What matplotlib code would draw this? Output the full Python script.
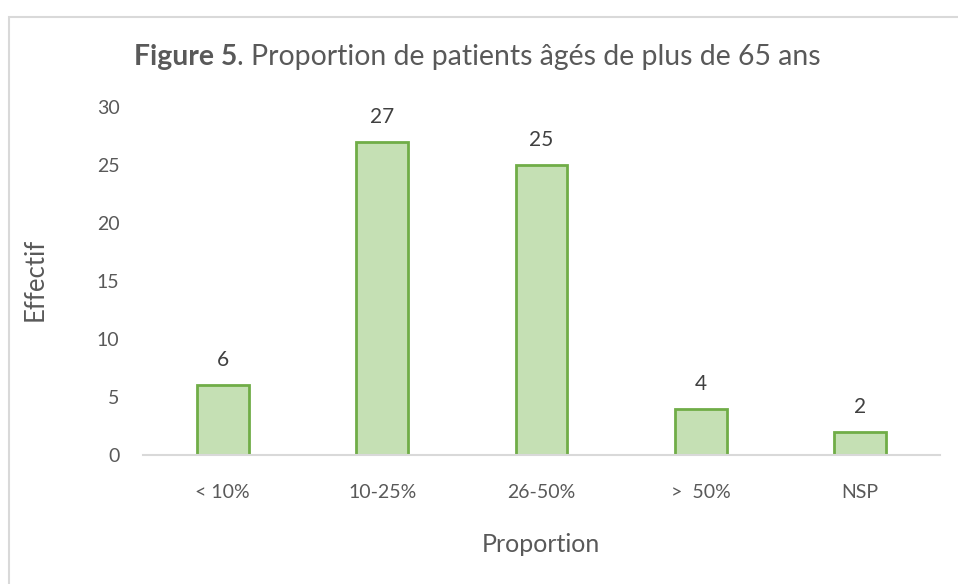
import matplotlib
matplotlib.use("Agg")
import matplotlib.pyplot as plt
from matplotlib.patches import Rectangle

# donnees
categories = ["< 10%", "10-25%", "26-50%", ">  50%", "NSP"]
effectifs = [6, 27, 25, 4, 2]
y_ticks = [0, 5, 10, 15, 20, 25, 30]

plt.rcParams['font.family'] = ['Lato', 'DejaVu Sans']
txt_color = '#595959'

fig = plt.figure(figsize=(9.58, 5.84), dpi=100)
ax = fig.add_axes([143 / 958, 129 / 584, 797 / 958, 348 / 584])

# cadre gris autour du graphique
fig.patches.append(Rectangle((9 / 958, -0.01), 1.0, 1.01 - 17 / 584,
                             transform=fig.transFigure, fill=False,
                             edgecolor='#D9D9D9', linewidth=1.5))

x = range(len(categories))
bars = ax.bar(x, effectifs, width=0.325, color='#C5E0B4',
              edgecolor='#70AD47', linewidth=2)

for b, v in zip(bars, effectifs):
    ax.annotate(str(v), (b.get_x() + b.get_width() / 2, v),
                xytext=(0, 25), textcoords='offset pixels',
                ha='center', va='center', fontsize=15, color='#404040')

ax.set_xlim(-0.5, len(categories) - 0.5)
ax.set_ylim(0, 30)
ax.set_yticks(y_ticks)
ax.set_xticks(list(x))
ax.set_xticklabels(categories)
ax.tick_params(axis='both', length=0, labelsize=14, labelcolor=txt_color)
ax.tick_params(axis='y', pad=17)
ax.tick_params(axis='x', pad=21)

for s in ['top', 'right', 'left']:
    ax.spines[s].set_visible(False)
ax.spines['bottom'].set_color('#D9D9D9')
ax.spines['bottom'].set_linewidth(1.5)

fig.text(35 / 958, 1 - 279 / 584, 'Effectif', rotation=90, ha='center',
         va='center', fontsize=18.5, color=txt_color)
fig.text(541 / 958, 1 - 545 / 584, 'Proportion', ha='center',
         va='center', fontsize=18, color=txt_color)

# titre : partie en gras + partie normale, centres ensemble
t1 = fig.text(0, 1 - 57 / 584, 'Figure 5', fontsize=20.4, fontweight='bold',
              color=txt_color, va='center')
t2 = fig.text(0, 1 - 57 / 584, '. Proportion de patients âgés de plus de 65 ans',
              fontsize=20.4, color=txt_color, va='center')
fig.canvas.draw()
r = fig.canvas.get_renderer()
w1 = t1.get_window_extent(r).width
w2 = t2.get_window_extent(r).width
x0 = 477 - (w1 + w2) / 2
t1.set_x(x0 / 958)
t2.set_x((x0 + w1) / 958)

fig.savefig('out.png', dpi=100)
